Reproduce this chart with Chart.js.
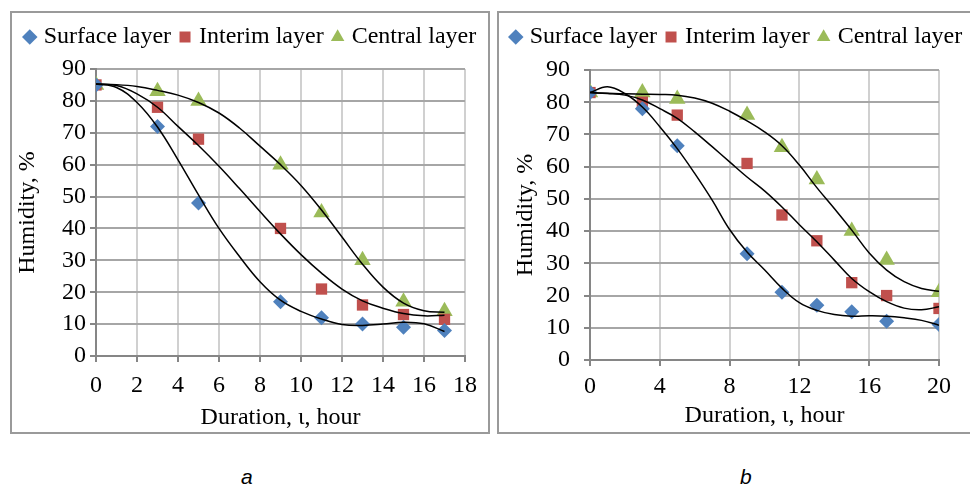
<!DOCTYPE html>
<html>
<head>
<meta charset="utf-8">
<script src="https://cdn.jsdelivr.net/npm/chart.js@4/dist/chart.umd.min.js"></script>
<style>
  html, body { margin: 0; padding: 0; background: #fff; width: 970px; height: 488px; overflow: hidden; position: relative; }
  .box { position: absolute; border: 2px solid #9a9a9a; }
  canvas { position: absolute; display: block; }
  .caption { position: absolute; font-family: "Liberation Sans", Arial, sans-serif; font-style: italic; font-size: 21px; color: #000; }
</style>
</head>
<body>
<div class="box" style="left:10px; top:11px; width:476px; height:419px;"></div>
<div class="box" style="left:497px; top:11px; width:490px; height:419px;"></div>
<canvas id="chartA" width="504" height="419" style="left:0px; top:13px;"></canvas>
<canvas id="chartB" width="520" height="419" style="left:499px; top:13px;"></canvas>
<div class="caption" style="left:241px; top:465px;">a</div>
<div class="caption" style="left:740px; top:465px;">b</div>
<script>
// ---- chart a ----
const hoursA = [0, 3, 5, 9, 11, 13, 15, 17];
const surfaceA = [85, 72, 48, 17, 12, 10, 9, 8];
const interimA = [85, 78, 68, 40, 21, 16, 13, 11.5];
const centralA = [85, 83, 80, 60, 45, 30, 17, 14];

// trend lines, one value per hour
const trendHoursA = [0, 1, 2, 3, 4, 5, 6, 7, 8, 9, 10, 11, 12, 13, 14, 15, 16, 17];
const surfaceTrendA = [85.3, 84.2, 79.5, 71.8, 61.5, 50.5, 40, 31.2, 23.3, 17.5, 14, 11.6, 9.9, 9.6, 10, 10.6, 10.1, 7.7];
const interimTrendA = [85.3, 84.8, 82.2, 78, 72, 66, 59.5, 52.5, 45.3, 38.3, 31.8, 26, 21, 17.3, 15, 13.3, 12.6, 12.8];
const centralTrendA = [85.3, 85.1, 84.5, 83.3, 81.8, 79.5, 76.2, 71.5, 65.8, 60, 53.5, 45.8, 37.3, 28.8, 21.6, 16.6, 14.2, 13.7];

// ---- chart b ----
const hoursB = [0, 3, 5, 9, 11, 13, 15, 17, 20];
const surfaceB = [83, 78, 66.5, 33, 21, 17, 15, 12, 11];
const interimB = [83, 80, 76, 61, 45, 37, 24, 20, 16];
const centralB = [83, 83, 81, 76, 66, 56, 40, 31, 21];

const trendHoursB = [0, 1, 2, 3, 4, 5, 6, 7, 8, 9, 10, 11, 12, 13, 14, 15, 16, 17, 18, 19, 20];
const surfaceTrendB = [83, 84.8, 82.7, 78.5, 72.4, 65.6, 57.9, 49.6, 40.5, 33.5, 28, 22.3, 17.8, 15.4, 14.1, 13.6, 13.7, 13.6, 13.1, 12.3, 10.8];
const interimTrendB = [83, 82.7, 82.2, 80.7, 78, 75, 70.8, 66.2, 61.5, 56.8, 52.5, 47.5, 42, 36.7, 31, 25.3, 21.2, 18.1, 16.1, 15.6, 16.5];
const centralTrendB = [83, 82.8, 82.6, 82.5, 82.4, 82.2, 81.3, 79.7, 77.2, 74.2, 70.8, 66.5, 60.5, 53.5, 47, 40.3, 33.2, 27.9, 24.3, 22.2, 21.3];

const seriesNames = ["Surface layer", "Interim layer", "Central layer"];
const seriesColors = ["#4F81BD", "#C0504D", "#9BBB59"];
const seriesShapes = ["rectRot", "rect", "triangle"];
const seriesRadius = [7.5, 8, 9.5];

const serif = "'Liberation Serif', 'Times New Roman', serif";
const fontSize = 24;

function points(xs, ys) {
    return xs.map((x, i) => ({ x: x, y: ys[i] }));
}

function makeChart(id, cfg) {
    const markerSets = [cfg.surface, cfg.interim, cfg.central].map((vals, i) => ({
        label: seriesNames[i],
        data: points(cfg.hours, vals),
        pointStyle: seriesShapes[i],
        pointRadius: seriesRadius[i],
        pointHoverRadius: seriesRadius[i],
        backgroundColor: seriesColors[i],
        borderColor: seriesColors[i],
        borderWidth: 0,
        showLine: false,
        order: 2
    }));
    const trendSets = [cfg.surfaceTrend, cfg.interimTrend, cfg.centralTrend].map((vals) => ({
        label: "trend",
        data: points(cfg.trendHours, vals),
        showLine: true,
        borderColor: "#000",
        borderWidth: 1.5,
        pointRadius: 0,
        tension: 0.4,
        order: 1
    }));

    // fixed space for the legend above the plot
    const legendSpace = {
        id: "legendSpace",
        beforeInit(chart) {
            const fit = chart.legend.fit;
            chart.legend.fit = function () {
                fit.bind(chart.legend)();
                this.height = cfg.legendHeight;
            };
        }
    };

    return new Chart(document.getElementById(id), {
        type: "scatter",
        data: { datasets: markerSets.concat(trendSets) },
        plugins: [legendSpace],
        options: {
            responsive: false,
            animation: false,
            layout: { padding: { left: cfg.padLeft, right: cfg.padRight, top: 0, bottom: 0 } },
            plugins: {
                tooltip: { enabled: false },
                legend: {
                    position: "top",
                    labels: {
                        usePointStyle: true,
                        boxWidth: 4,
                        boxHeight: 11,
                        padding: 12,
                        color: "#000",
                        font: { family: serif, size: fontSize },
                        filter: (item) => item.datasetIndex < 3
                    }
                }
            },
            scales: {
                x: {
                    type: "linear",
                    min: 0,
                    max: cfg.xMax,
                    afterFit: (scale) => { scale.height = cfg.xHeight; },
                    ticks: { stepSize: cfg.xStep, color: "#000", padding: cfg.xTickPad, font: { family: serif, size: fontSize } },
                    grid: { color: "#d0d0d0", lineWidth: 2, tickColor: "#868686", tickLength: 6, tickWidth: 2 },
                    border: { color: "#868686", width: 2 },
                    title: { display: true, text: "Duration, ι, hour", color: "#000", padding: { top: 0, bottom: cfg.xTitlePad }, font: { family: serif, size: fontSize } }
                },
                y: {
                    min: 0,
                    max: 90,
                    afterFit: (scale) => { scale.width = cfg.yWidth; },
                    ticks: { stepSize: 10, color: "#000", padding: cfg.yTickPad, font: { family: serif, size: fontSize } },
                    grid: { color: "#a6a6a6", lineWidth: 2, tickColor: "#868686", tickLength: 6, tickWidth: 2 },
                    border: { color: "#868686", width: 2 },
                    title: { display: true, text: "Humidity, %", color: "#000", padding: { top: cfg.yTitlePad, bottom: 0 }, font: { family: serif, size: fontSize } }
                },
                // empty right-hand axis, only keeps room beside the plot
                side: {
                    position: "right",
                    afterFit: (scale) => { scale.width = cfg.sideWidth; },
                    ticks: { display: false },
                    grid: { display: false, drawTicks: false },
                    border: { display: false }
                }
            }
        }
    });
}

makeChart("chartA", {
    hours: hoursA, surface: surfaceA, interim: interimA, central: centralA,
    trendHours: trendHoursA, surfaceTrend: surfaceTrendA, interimTrend: interimTrendA, centralTrend: centralTrendA,
    xMax: 18, xStep: 2,
    padLeft: 0, padRight: 0,
    legendHeight: 56, xHeight: 76, yWidth: 96, sideWidth: 39,
    xTickPad: 9, yTickPad: 4, xTitlePad: 0, yTitlePad: 13
});

makeChart("chartB", {
    hours: hoursB, surface: surfaceB, interim: interimB, central: centralB,
    trendHours: trendHoursB, surfaceTrend: surfaceTrendB, interimTrend: interimTrendB, centralTrend: centralTrendB,
    xMax: 20, xStep: 4,
    padLeft: 0, padRight: 42,
    legendHeight: 57, xHeight: 72, yWidth: 91, sideWidth: 38,
    xTickPad: 6, yTickPad: 14, xTitlePad: 2, yTitlePad: 12
});
</script>
</body>
</html>
